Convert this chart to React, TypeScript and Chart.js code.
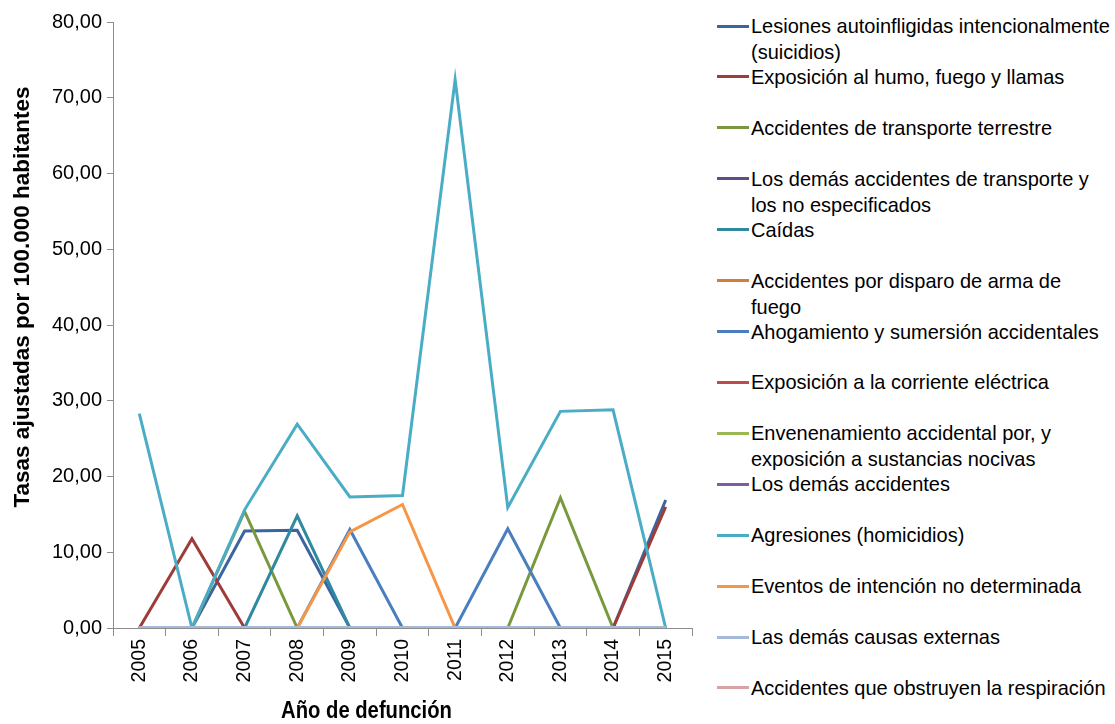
import { useEffect, useRef } from "react";
import { Chart, registerables } from "chart.js";

Chart.register(...registerables);

const years = ["2005", "2006", "2007", "2008", "2009", "2010", "2011", "2012", "2013", "2014", "2015"];

const yTitle = "Tasas ajustadas por 100.000 habitantes";
const xTitle = "Año de defunción";
const yTickValues = [0, 10, 20, 30, 40, 50, 60, 70, 80];

const suicidios = [0, 0, 12.8, 12.9, 0, 0, 0, 0, 0, 0, 16.9];
const humoFuego = [0, 11.8, 0, 0, 0, 0, 0, 0, 0, 0, 16.0];
const transporteTerrestre = [0, 0, 15.4, 0, 0, 0, 0, 0, 17.2, 0, 0];
const demasTransporte = [0, 0, 0, 0, 0, 0, 0, 0, 0, 0, 0];
const caidas = [0, 0, 0, 14.8, 0, 0, 0, 0, 0, 0, 0];
const disparoArma = [0, 0, 0, 0, 0, 0, 0, 0, 0, 0, 0];
const ahogamiento = [0, 0, 0, 0, 13.0, 0, 0, 13.1, 0, 0, 0];
const corrienteElectrica = [0, 0, 0, 0, 0, 0, 0, 0, 0, 0, 0];
const envenenamiento = [0, 0, 0, 0, 0, 0, 0, 0, 0, 0, 0];
const demasAccidentes = [0, 0, 0, 0, 0, 0, 0, 0, 0, 0, 0];
const agresiones = [28.3, 0, 15.6, 26.9, 17.3, 17.5, 72.4, 15.9, 28.6, 28.8, 0];
const eventosNoDeterminados = [0, 0, 0, 0, 12.7, 16.3, 0, 0, 0, 0, 0];
const demasCausas = [0, 0, 0, 0, 0, 0, 0, 0, 0, 0, 0];
const obstruyenRespiracion = [0, 0, 0, 0, 0, 0, 0, 0, 0, 0, 0];

const seriesNames = [
  "Lesiones autoinfligidas intencionalmente (suicidios)",
  "Exposición al humo, fuego y llamas",
  "Accidentes de transporte terrestre",
  "Los demás accidentes de transporte y los no especificados",
  "Caídas",
  "Accidentes por disparo de arma de fuego",
  "Ahogamiento y sumersión accidentales",
  "Exposición a la corriente eléctrica",
  "Envenenamiento accidental por, y exposición a sustancias nocivas",
  "Los demás accidentes",
  "Agresiones (homicidios)",
  "Eventos de intención no determinada",
  "Las demás causas externas",
  "Accidentes que obstruyen la respiración",
];

const legendLines = [
  ["Lesiones autoinfligidas intencionalmente", "(suicidios)"],
  ["Exposición al humo, fuego y llamas"],
  ["Accidentes de transporte terrestre"],
  ["Los demás accidentes de transporte y", "los no especificados"],
  ["Caídas"],
  ["Accidentes por disparo de arma de", "fuego"],
  ["Ahogamiento y sumersión accidentales"],
  ["Exposición a la corriente eléctrica"],
  ["Envenenamiento accidental por, y", "exposición a sustancias nocivas"],
  ["Los demás accidentes"],
  ["Agresiones (homicidios)"],
  ["Eventos de intención no determinada"],
  ["Las demás causas externas"],
  ["Accidentes que obstruyen la respiración"],
];

const seriesValues = [
  suicidios,
  humoFuego,
  transporteTerrestre,
  demasTransporte,
  caidas,
  disparoArma,
  ahogamiento,
  corrienteElectrica,
  envenenamiento,
  demasAccidentes,
  agresiones,
  eventosNoDeterminados,
  demasCausas,
  obstruyenRespiracion,
];

const seriesColors = [
  "#3B659E",
  "#9E3C3A",
  "#7A993E",
  "#654A89",
  "#2F8AA0",
  "#D27E37",
  "#4A7EBF",
  "#BE4B48",
  "#98B954",
  "#7D5FA0",
  "#4BACC6",
  "#F79646",
  "#A5BAD9",
  "#D9A3A3",
];

const FONT = '"Liberation Sans", Arial, Helvetica, sans-serif';

const axisTitlesPlugin = {
  id: "axisTitlesPlugin",
  afterDraw(chart: any) {
    const { ctx, chartArea } = chart;
    const midY = (chartArea.top + chartArea.bottom) / 2;
    const midX = (chartArea.left + chartArea.right) / 2;
    // y axis title
    ctx.save();
    ctx.translate(23, midY - 28);
    ctx.rotate(-Math.PI / 2);
    ctx.font = `bold 22.5px ${FONT}`;
    ctx.fillStyle = "#000";
    ctx.textAlign = "center";
    ctx.textBaseline = "middle";
    ctx.fillText(yTitle, 0, 0);
    ctx.restore();
    // x axis title
    ctx.save();
    ctx.translate(midX - 36, chart.height - 12);
    ctx.scale(0.88, 1);
    ctx.font = `bold 23px ${FONT}`;
    ctx.fillStyle = "#000";
    ctx.textAlign = "center";
    ctx.textBaseline = "middle";
    ctx.fillText(xTitle, 0, 0);
    ctx.restore();
  },
};

export default function App() {
  const canvasRef = useRef<HTMLCanvasElement | null>(null);

  useEffect(() => {
    if (!canvasRef.current) return;
    const n = seriesNames.length;
    const datasets = seriesNames.map((name, i) => ({
      label: name,
      data: seriesValues[i],
      borderColor: seriesColors[i],
      backgroundColor: seriesColors[i],
      borderWidth: name === "Las demás causas externas" ? 4 : 3,
      pointRadius: 0,
      pointHoverRadius: 0,
      tension: 0,
      fill: false,
      order: name === "Las demás causas externas" ? 0 : n - i,
    }));

    const chart = new Chart(canvasRef.current, {
      type: "line",
      data: { labels: years, datasets },
      plugins: [axisTitlesPlugin],
      options: {
        animation: false,
        responsive: false,
        maintainAspectRatio: false,
        layout: { padding: { top: 22, right: 8, left: 0, bottom: 0 } },
        plugins: {
          legend: { display: false },
          tooltip: { enabled: false },
          title: { display: false },
        },
        scales: {
          x: {
            type: "category",
            offset: true,
            grid: {
              offset: true,
              drawOnChartArea: false,
              drawTicks: true,
              tickLength: 8,
              color: "#8C8C8C",
            },
            border: { display: true, color: "#8C8C8C", width: 1 },
            ticks: {
              maxRotation: 90,
              minRotation: 90,
              autoSkip: false,
              padding: 3,
              color: "#000",
              font: { family: FONT, size: 19.5 },
            },
            title: { display: false },
            afterFit(scale: any) {
              scale.height = 96;
            },
          },
          y: {
            min: 0,
            max: 80,
            afterBuildTicks(scale: any) {
              scale.ticks = yTickValues.map((v) => ({ value: v }));
            },
            grid: {
              drawOnChartArea: false,
              drawTicks: true,
              tickLength: 6,
              color: "#8C8C8C",
            },
            border: { display: true, color: "#8C8C8C", width: 1 },
            ticks: {
              padding: 5,
              color: "#000",
              font: { family: FONT, size: 20 },
              callback: (v: any) => Number(v).toFixed(2).replace(".", ","),
            },
            title: { display: false },
            afterFit(scale: any) {
              scale.width = 113;
            },
          },
        },
      },
    });
    return () => chart.destroy();
  }, []);

  return (
    <div style={{ position: "absolute", left: 0, top: 0, width: 1115, height: 724, background: "#fff", overflow: "hidden" }}>
      <canvas ref={canvasRef} width={700} height={724} style={{ position: "absolute", left: 0, top: 0, width: 700, height: 724 }} />
      {legendLines.map((lines, i) => (
        <div
          key={i}
          style={{
            position: "absolute",
            left: 717,
            top: 26 + i * 50.92 - 13,
            display: "flex",
            alignItems: "flex-start",
            fontFamily: FONT,
            fontSize: 21,
            lineHeight: "26px",
            color: "#000",
            whiteSpace: "nowrap",
          }}
        >
          <div style={{ width: 32, height: 3, marginTop: 11.5, background: seriesColors[i], flex: "none" }} />
          <div style={{ marginLeft: 2, transform: "scaleX(0.952)", transformOrigin: "left center" }}>
            {lines.map((t, j) => (
              <div key={j}>{t}</div>
            ))}
          </div>
        </div>
      ))}
    </div>
  );
}
